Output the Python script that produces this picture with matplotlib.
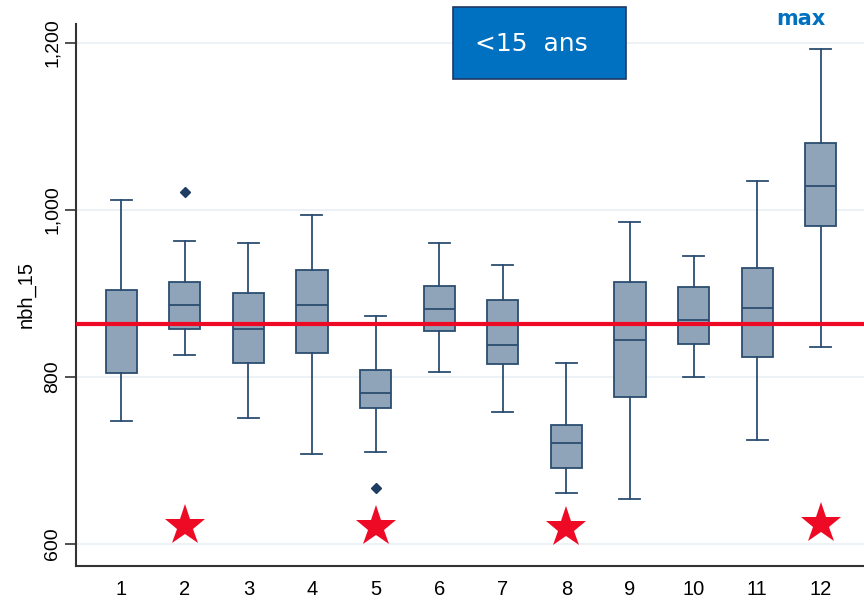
import matplotlib
matplotlib.use("Agg")
import matplotlib.pyplot as plt
from matplotlib.patches import Rectangle

plt.rcParams["font.family"] = ["Liberation Sans", "DejaVu Sans"]

# values
groups = [1, 2, 3, 4, 5, 6, 7, 8, 9, 10, 11, 12]
q1 = [804, 857, 817, 829, 762, 855, 815, 691, 776, 839, 824, 981]
med = [862, 886, 857, 886, 781, 881, 838, 721, 844, 868, 882, 1029]
q3 = [904, 913, 900, 928, 808, 909, 892, 742, 914, 907, 930, 1080]
whislo = [747, 826, 750, 708, 710, 806, 758, 661, 654, 800, 724, 836]
whishi = [1012, 962, 960, 994, 873, 960, 934, 817, 985, 944, 1035, 1192]
fliers = {2: [1021], 5: [667]}

ref_line = 863
star_groups = [2, 5, 8, 12]
star_vals = [621, 620, 619, 624]

yticks = [600, 800, 1000, 1200]
ytick_labels = ["600", "800", "1,000", "1,200"]

edge = "#2c4d70"
fill = "#8fa4b8"

fig = plt.figure(figsize=(8.64, 6.0), dpi=100)
ax = fig.add_axes([0.088, 0.057, 0.912, 0.903])

stats = []
for i, g in enumerate(groups):
    stats.append({
        "med": med[i], "q1": q1[i], "q3": q3[i],
        "whislo": whislo[i], "whishi": whishi[i],
        "fliers": fliers.get(g, []),
    })

ax.bxp(stats, positions=groups, widths=0.49, patch_artist=True,
       showfliers=True, capwidths=0.33,
       boxprops=dict(facecolor=fill, edgecolor=edge, linewidth=1.3),
       medianprops=dict(color=edge, linewidth=1.3),
       whiskerprops=dict(color=edge, linewidth=1.3),
       capprops=dict(color=edge, linewidth=1.3),
       flierprops=dict(marker="D", markersize=5, markerfacecolor="#1f3d63",
                       markeredgecolor="#1f3d63"),
       zorder=3)

ax.axhline(ref_line, color="#ee0a24", linewidth=3, zorder=4)
ax.plot(star_groups, star_vals, linestyle="none", marker="*", markersize=31,
        color="#ee0a24", markeredgewidth=0, zorder=5)

ax.set_xlim(0.29, 12.68)
ax.set_ylim(573.5, 1222.5)
ax.set_yticks(yticks)
ax.set_yticklabels(ytick_labels, rotation=90, va="center", fontsize=14)
ax.set_xticks(groups)
ax.set_xticklabels([str(g) for g in groups], fontsize=14.5)
ax.tick_params(axis="x", length=0, pad=10)
ax.tick_params(axis="y", length=8, width=1.2, color="#333333", pad=3)
ax.grid(axis="y", color="#eaf0f5", linewidth=1.2, zorder=0)
ax.set_ylabel("nbh_15", fontsize=14.5, labelpad=6)

for s in ["top", "right"]:
    ax.spines[s].set_visible(False)
for s in ["left", "bottom"]:
    ax.spines[s].set_color("#333333")
    ax.spines[s].set_linewidth(1.5)

# title box and corner label
fig.patches.append(Rectangle((0.5243, 0.8683), 0.2002, 0.12, transform=fig.transFigure,
                             facecolor="#0070c0", edgecolor="#1f3864", linewidth=1.2,
                             zorder=6))
fig.text(0.5498, 0.9267, "<15  ans", color="white", fontsize=18, ha="left", va="center",
         family="DejaVu Sans", zorder=7)
fig.text(0.927, 0.968, "max", color="#0070c0", fontsize=15, fontweight="bold",
         ha="center", va="center", family="DejaVu Sans")

fig.savefig("out.png", dpi=100)
